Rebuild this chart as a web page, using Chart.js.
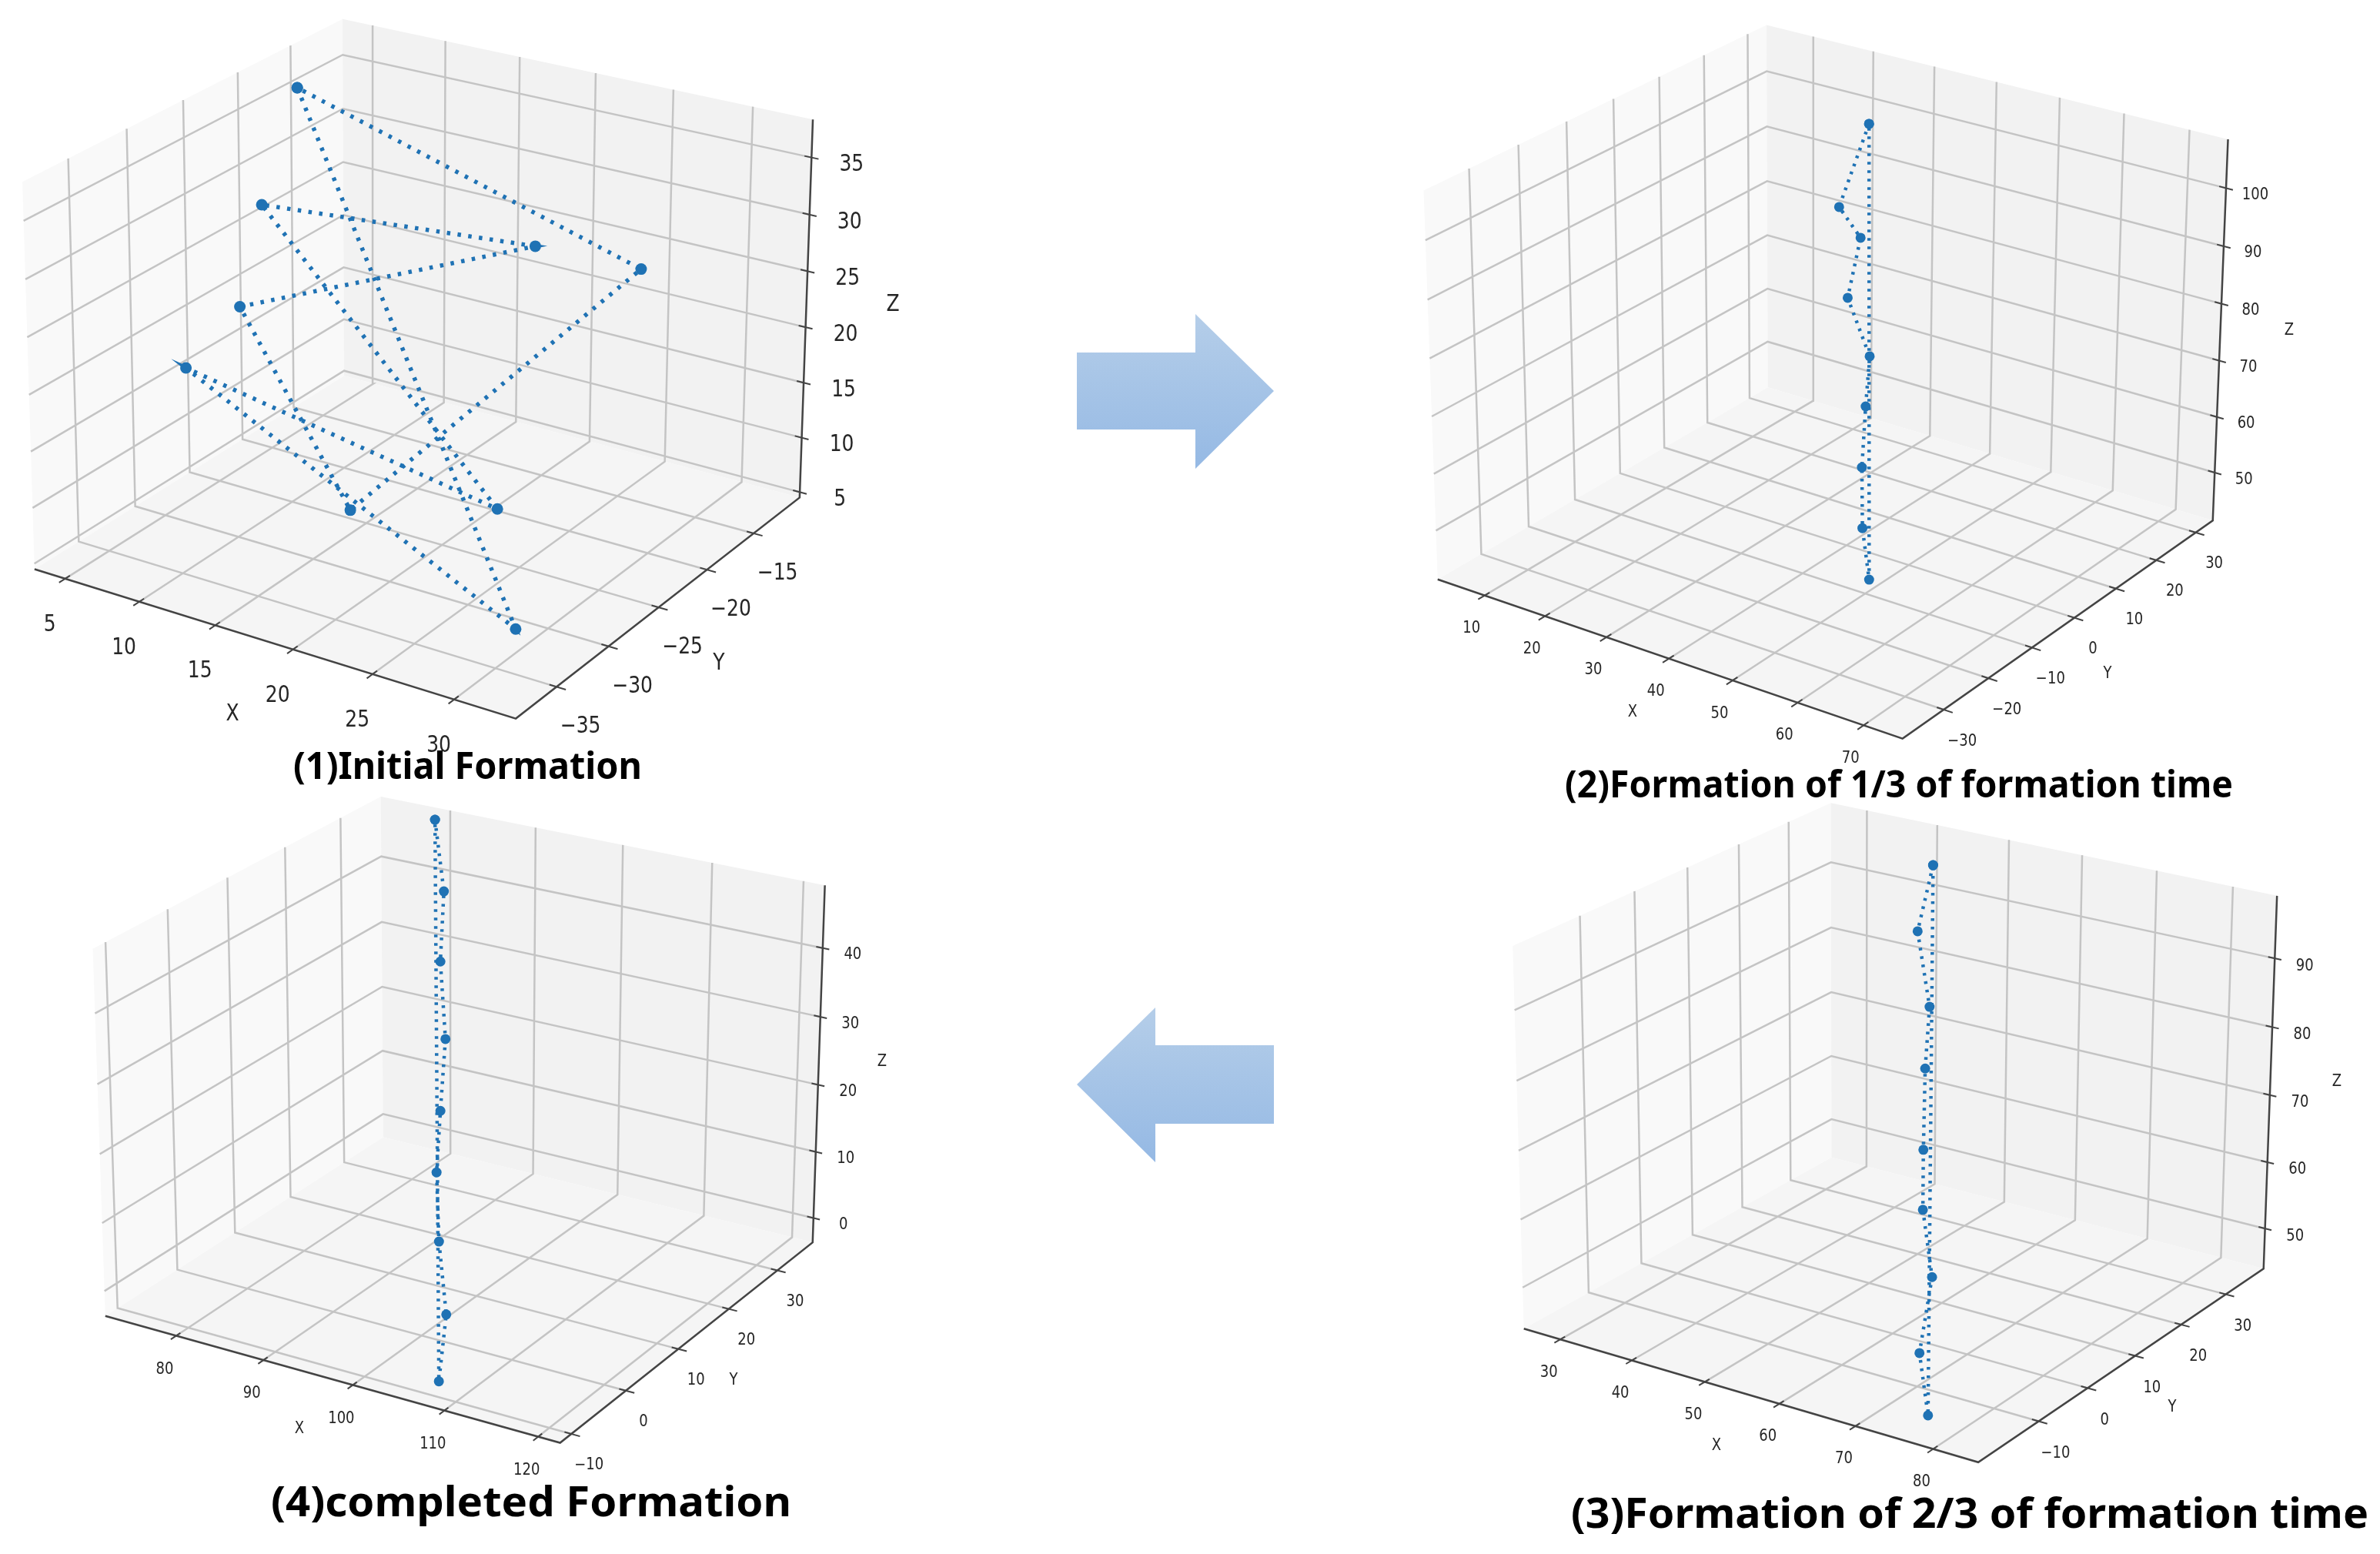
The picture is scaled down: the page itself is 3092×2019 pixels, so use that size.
<!DOCTYPE html>
<html>
<head>
<meta charset="utf-8">
<style>
  html, body { margin: 0; background: #fff; }
  body { position: relative; width: 3092px; height: 2019px; overflow: hidden; }
  canvas { position: absolute; filter: blur(0.7px); }
  svg { position: absolute; left: 0; top: 0; }
  svg text { filter: blur(0.5px); }
</style>
<script src="https://cdn.jsdelivr.net/npm/chart.js@4"></script>
</head>
<body>
<canvas id="panel1"></canvas>
<canvas id="panel2"></canvas>
<canvas id="panel3"></canvas>
<canvas id="panel4"></canvas>
<svg width="3092" height="2019" font-family="'Noto Sans'" font-weight="700">
  <defs>
    <linearGradient id="arrowFill" x1="0" y1="0" x2="0" y2="1">
      <stop offset="0" stop-color="#b5cee9"/>
      <stop offset="1" stop-color="#95b9e4"/>
    </linearGradient>
  </defs>
  <polygon fill="url(#arrowFill)" points="1399,458 1553,458 1553,408 1655,508 1553,609 1553,558 1399,558"/>
  <polygon fill="url(#arrowFill)" points="1655,1358 1501,1358 1501,1309 1399,1409 1501,1510 1501,1460 1655,1460"/>
  <text x="381" y="1012" font-size="48" textLength="453" lengthAdjust="spacingAndGlyphs">(1)Initial Formation</text>
  <text x="2033" y="1036" font-size="48" textLength="868" lengthAdjust="spacingAndGlyphs">(2)Formation of 1/3 of formation time</text>
  <text x="2041" y="1985" font-size="54" textLength="1036" lengthAdjust="spacingAndGlyphs">(3)Formation of 2/3 of formation time</text>
  <text x="352" y="1970" font-size="54" textLength="676" lengthAdjust="spacingAndGlyphs">(4)completed Formation</text>
</svg>
<script>
// Drone positions per panel (depth estimated)
const initialX = [5.3, 29.6, 5.3, 22, 4.6, 21.7, 4.7, 14.5, 28.2];
const initialY = [-17.7, -32.5, -28.3, -22.6, -20.2, -18.6, -22.5, -25.8, -18.3];
const initialZ = [36.5, 6, 17, 7, 27, 28, 19, 6, 28];
const oneThirdX = [31.5, 32, 35.6, 36.8, 41.6, 43.3, 45.4, 47.9, 50.6];
const oneThirdY = [16.9, 9.4, 9.2, 4.6, 2.8, -0.5, -4.3, -7.7, -10];
const oneThirdZ = [105.5, 94.3, 90.1, 82, 74.1, 67.4, 59.2, 51, 44];
const twoThirdX = [45, 48.3, 54.5, 58, 62.6, 65.9, 70.4, 73.2, 77];
const twoThirdY = [30.3, 22.2, 15.4, 9.3, 2.1, -2.9, -7.8, -14.4, -18.4];
const twoThirdZ = [97, 90.9, 83.9, 78.2, 70.6, 65, 58.8, 51.8, 46];
const doneX = [78, 83.4, 87.4, 92.2, 95.6, 98.4, 101.9, 105.8, 108.1];
const doneY = [37.8, 30.8, 23.7, 16.9, 10.5, 5.3, 0.1, -4.9, -9.9];
const doneZ = [47, 40.8, 34.8, 28.1, 21.9, 16.6, 10.6, 4.3, -1.5];

// Tick labels and axis limits
const initialTicks = { x: [5, 10, 15, 20, 25, 30], y: [-35, -30, -25, -20, -15], z: [5, 10, 15, 20, 25, 30, 35] };
const oneThirdTicks = { x: [10, 20, 30, 40, 50, 60, 70], y: [-30, -20, -10, 0, 10, 20, 30], z: [50, 60, 70, 80, 90, 100] };
const twoThirdTicks = { x: [30, 40, 50, 60, 70, 80], y: [-10, 0, 10, 20, 30], z: [50, 60, 70, 80, 90] };
const doneTicks = { x: [80, 90, 100, 110, 120], y: [-10, 0, 10, 20, 30], z: [0, 10, 20, 30, 40] };
const initialLimits = [2.9, 33.7, -38.8, -9.9, 4.5, 38.3];
const oneThirdLimits = [2.1, 75.8, -39, 34.4, 41.3, 108.3];
const twoThirdLimits = [24.8, 85.7, -21.9, 38.7, 43.9, 99];
const doneLimits = [71.7, 122.3, -12, 37.5, -3.7, 49];

// Where each box sits on the page; the camera matrix is fitted from these corners
const CORNERS = {
  front: [1, 0, 0], left: [0, 0, 0], right: [1, 1, 0], back: [0, 1, 0],
  ztop: [1, 1, 1], backtop: [0, 1, 1], lefttop: [0, 0, 1]
};

const panels = [
  {
    id: 'panel1', rect: [0, 0, 1300, 1000], xs: initialX, ys: initialY, zs: initialZ, ticks: initialTicks, limits: initialLimits,
    corners: { front: [670, 931], left: [46, 743], right: [1039, 650], back: [446, 484], ztop: [1056, 154], backtop: [446, 27], lefttop: [28, 235] },
    font: 25, stretch: 1.2, off: { x: [-20, 60], y: [31, 52], z: [52, 10] },
    labels: { X: [302, 928], Y: [934, 862], Z: [1160, 396] },
    line: 5.5, dash: [4.5, 9.5], radius: 7.5
  },
  {
    id: 'panel2', rect: [1800, 0, 1292, 1000], xs: oneThirdX, ys: oneThirdY, zs: oneThirdZ, ticks: oneThirdTicks, limits: oneThirdLimits,
    corners: { front: [2472, 960], left: [1868, 752], right: [2875, 676], back: [2296, 504], ztop: [2894, 181], backtop: [2296, 32], lefttop: [1849, 248] },
    font: 18, stretch: 1.18, off: { x: [-17, 43], y: [24, 41], z: [38, 9] },
    labels: { X: [2121, 925], Y: [2738, 875], Z: [2974, 429] },
    line: 4.5, dash: [3.5, 7.5], radius: 6.5
  },
  {
    id: 'panel3', rect: [1900, 1030, 1192, 989], xs: twoThirdX, ys: twoThirdY, zs: twoThirdZ, ticks: twoThirdTicks, limits: twoThirdLimits,
    corners: { front: [2570, 1900], left: [1980, 1726], right: [2941, 1648], back: [2379, 1504], ztop: [2958, 1164], backtop: [2379, 1043], lefttop: [1965, 1229] },
    font: 18, stretch: 1.18, off: { x: [-15, 43], y: [22, 42], z: [39, 10] },
    labels: { X: [2230, 1878], Y: [2822, 1828], Z: [3036, 1405] },
    line: 4.5, dash: [3.5, 7.5], radius: 6.5
  },
  {
    id: 'panel4', rect: [0, 1030, 1300, 989], xs: doneX, ys: doneY, zs: doneZ, ticks: doneTicks, limits: doneLimits,
    corners: { front: [727, 1875], left: [137, 1710], right: [1056, 1613], back: [498, 1478], ztop: [1072, 1151], backtop: [494, 1035], lefttop: [121, 1232] },
    font: 18, stretch: 1.15, off: { x: [-15, 44], y: [23, 41], z: [39, 9] },
    labels: { X: [389, 1857], Y: [953, 1794], Z: [1146, 1380] },
    line: 4.5, dash: [3.5, 7.5], radius: 6.5
  }
];

const BLUE = '#1f72b4';
const GRID = '#c4c4c4';
const EDGE = '#444444';
const TEXT = '#262626';

// Gaussian elimination, used for the camera fit only
function solve(A, b) {
  const n = b.length;
  const m = A.map((row, i) => [...row, b[i]]);
  for (let i = 0; i < n; i++) {
    let p = i;
    for (let k = i + 1; k < n; k++) if (Math.abs(m[k][i]) > Math.abs(m[p][i])) p = k;
    [m[i], m[p]] = [m[p], m[i]];
    for (let k = 0; k < n; k++) {
      if (k === i) continue;
      const f = m[k][i] / m[i][i];
      for (let j = i; j <= n; j++) m[k][j] -= f * m[i][j];
    }
  }
  return m.map((row, i) => row[n] / row[i]);
}

// Least squares projective camera from the box corners
function fitCamera(corners) {
  const rows = [], rhs = [];
  Object.keys(CORNERS).forEach(k => {
    const [x, y, z] = CORNERS[k];
    const [u, v] = corners[k];
    rows.push([x, y, z, 1, 0, 0, 0, 0, -u * x, -u * y, -u * z]); rhs.push(u);
    rows.push([0, 0, 0, 0, x, y, z, 1, -v * x, -v * y, -v * z]); rhs.push(v);
  });
  const idx = [...Array(11).keys()];
  const N = idx.map(i => idx.map(j => rows.reduce((s, r) => s + r[i] * r[j], 0)));
  const b = idx.map(i => rows.reduce((s, r, k) => s + r[i] * rhs[k], 0));
  return [...solve(N, b), 1];
}

function makeChart(p) {
  const [left, top, width, height] = p.rect;
  const canvas = document.getElementById(p.id);
  canvas.width = width;
  canvas.height = height;
  canvas.style.left = left + 'px';
  canvas.style.top = top + 'px';

  const m = fitCamera(p.corners);
  const L = p.limits;
  // box coordinates (0..1) to page position
  const box = (a, b, c) => {
    const w = m[8] * a + m[9] * b + m[10] * c + m[11];
    return { x: (m[0] * a + m[1] * b + m[2] * c + m[3]) / w, y: (m[4] * a + m[5] * b + m[6] * c + m[7]) / w };
  };
  const nx = v => (v - L[0]) / (L[1] - L[0]);
  const ny = v => (v - L[2]) / (L[3] - L[2]);
  const nz = v => (v - L[4]) / (L[5] - L[4]);

  const gap = { x: NaN, y: NaN };
  const grid = [], ticks = [];
  p.ticks.x.forEach(v => {
    const t = nx(v);
    grid.push(box(t, 0, 0), box(t, 1, 0), box(t, 1, 1), gap);
    ticks.push(box(t, 0.014, 0), box(t, -0.018, 0), gap);
  });
  p.ticks.y.forEach(v => {
    const t = ny(v);
    grid.push(box(1, t, 0), box(0, t, 0), box(0, t, 1), gap);
    ticks.push(box(0.986, t, 0), box(1.018, t, 0), gap);
  });
  p.ticks.z.forEach(v => {
    const t = nz(v);
    grid.push(box(0, 0, t), box(0, 1, t), box(1, 1, t), gap);
    ticks.push(box(0.986, 1, t), box(1.014, 1, t), gap);
  });
  const edges = [box(0, 0, 0), box(1, 0, 0), box(1, 1, 0), box(1, 1, 1)];

  // closed loop through the nine drones
  const loop = p.xs.map((x, i) => box(nx(x), ny(p.ys[i]), nz(p.zs[i])));
  loop.push(loop[0]);

  const panes = [
    { color: '#f9f9f9', pts: [box(0, 0, 0), box(0, 1, 0), box(0, 1, 1), box(0, 0, 1)] },
    { color: '#f2f2f2', pts: [box(0, 1, 0), box(1, 1, 0), box(1, 1, 1), box(0, 1, 1)] },
    { color: '#f5f5f5', pts: [box(0, 0, 0), box(1, 0, 0), box(1, 1, 0), box(0, 1, 0)] }
  ];

  const words = [];
  const fmt = v => String(v).replace('-', '\u2212');
  const addText = (list, axis, pos) => list.forEach(v => {
    const q = pos(v);
    words.push({ s: fmt(v), x: q.x + p.off[axis][0], y: q.y + p.off[axis][1] });
  });
  addText(p.ticks.x, 'x', v => box(nx(v), 0, 0));
  addText(p.ticks.y, 'y', v => box(1, ny(v), 0));
  addText(p.ticks.z, 'z', v => box(1, 1, nz(v)));
  Object.keys(p.labels).forEach(k => words.push({ s: k, x: p.labels[k][0], y: p.labels[k][1] }));

  const scenery = {
    id: 'scenery',
    beforeDatasetsDraw(chart) {
      const { ctx, scales } = chart;
      ctx.save();
      panes.forEach(pane => {
        ctx.beginPath();
        pane.pts.forEach((q, i) => {
          const px = scales.x.getPixelForValue(q.x), py = scales.y.getPixelForValue(q.y);
          if (i) ctx.lineTo(px, py); else ctx.moveTo(px, py);
        });
        ctx.closePath();
        ctx.fillStyle = pane.color;
        ctx.fill();
      });
      ctx.restore();
    },
    afterDatasetsDraw(chart) {
      const { ctx, scales } = chart;
      ctx.fillStyle = TEXT;
      ctx.textAlign = 'center';
      ctx.textBaseline = 'middle';
      ctx.font = p.font + 'px "DejaVu Sans"';
      // the source picture was stretched, so the glyphs are taller than wide
      words.forEach(t => {
        ctx.save();
        ctx.translate(scales.x.getPixelForValue(t.x), scales.y.getPixelForValue(t.y));
        ctx.scale(1, p.stretch);
        ctx.fillText(t.s, 0, 0);
        ctx.restore();
      });
    }
  };

  new Chart(canvas, {
    type: 'scatter',
    data: {
      datasets: [
        {
          data: loop, showLine: true, borderColor: BLUE, borderWidth: p.line, borderDash: p.dash,
          pointRadius: p.radius, pointBackgroundColor: BLUE, pointBorderWidth: 0, order: 0
        },
        { data: ticks, showLine: true, borderColor: EDGE, borderWidth: 2, pointRadius: 0, order: 1 },
        { data: edges, showLine: true, borderColor: EDGE, borderWidth: 2.5, pointRadius: 0, order: 2 },
        { data: grid, showLine: true, borderColor: GRID, borderWidth: 2.5, pointRadius: 0, order: 3 }
      ]
    },
    options: {
      responsive: false,
      animation: false,
      layout: { padding: 0, autoPadding: false },
      plugins: { legend: { display: false }, tooltip: { enabled: false } },
      scales: {
        x: { type: 'linear', display: false, min: left, max: left + width },
        y: { type: 'linear', display: false, min: top, max: top + height, reverse: true }
      }
    },
    plugins: [scenery]
  });
}

panels.forEach(makeChart);
</script>
</body>
</html>
